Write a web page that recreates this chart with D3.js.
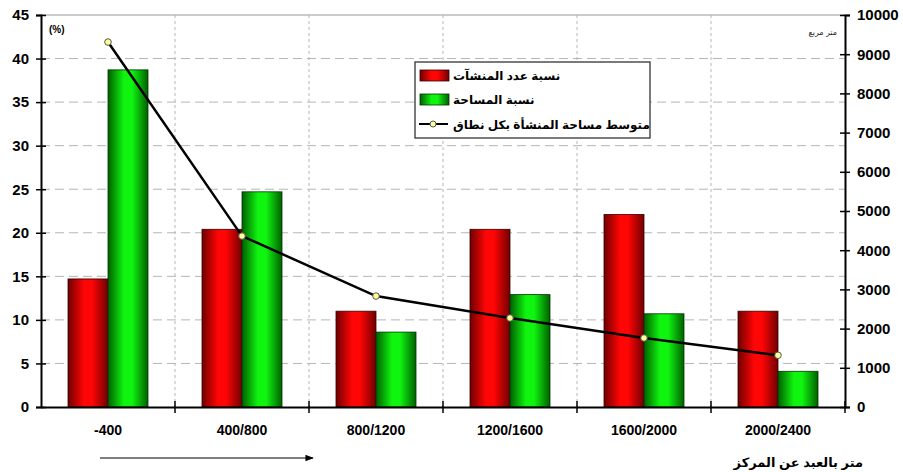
<!DOCTYPE html>
<html>
<head>
<meta charset="utf-8">
<script src="https://cdn.jsdelivr.net/npm/d3@7"></script>
<style>
  body { margin: 0; background: #fff; }
  text { font-family: Arial, "Liberation Sans", "DejaVu Sans", sans-serif; }
</style>
</head>
<body>
<div id="chart"></div>
<script>
// data
const categories = ["-400", "400/800", "800/1200", "1200/1600", "1600/2000", "2000/2400"];
const countShare = [14.7, 20.4, 11.0, 20.4, 22.1, 11.0];   // نسبة عدد المنشآت
const areaShare  = [38.7, 24.7, 8.6, 12.9, 10.7, 4.1];     // نسبة المساحة
const avgArea    = [9310, 4360, 2830, 2270, 1760, 1320];   // متوسط مساحة المنشأة
const leftTicks  = d3.range(0, 46, 5);
const rightTicks = d3.range(0, 10001, 1000);
const legendLabels = ["نسبة عدد المنشآت", "نسبة المساحة", "متوسط مساحة المنشأة بكل نطاق"];

const W = 903, H = 472;
const m = {left: 41, right: 58, top: 15, bottom: 65};

const svg = d3.select("#chart").append("svg")
  .attr("width", W).attr("height", H);

const defs = svg.append("defs");
const grad = function(id, dark, light) {
  const g = defs.append("linearGradient").attr("id", id)
    .attr("x1", "0%").attr("x2", "100%").attr("y1", "0%").attr("y2", "0%");
  g.append("stop").attr("offset", "0%").attr("stop-color", dark);
  g.append("stop").attr("offset", "40%").attr("stop-color", light);
  g.append("stop").attr("offset", "60%").attr("stop-color", light);
  g.append("stop").attr("offset", "100%").attr("stop-color", dark);
}
grad("gRed", "#700000", "#ff0505");
grad("gGreen", "#006000", "#10f510");

defs.append("marker").attr("id", "arrow")
  .attr("viewBox", "0 0 10 10").attr("refX", 9).attr("refY", 5)
  .attr("markerWidth", 7).attr("markerHeight", 7).attr("orient", "auto")
  .append("path").attr("d", "M0,1 L10,5 L0,9 Z").attr("fill", "#000");

const x0 = d3.scaleBand().domain(categories).range([m.left, W - m.right]);
const x1 = d3.scaleBand().domain(["count", "area"]).range([0, 80]);
const y = d3.scaleLinear().domain([0, 45]).range([H - m.bottom, m.top]);
const y2 = d3.scaleLinear().domain([0, 10000]).range([H - m.bottom, m.top]);

const plotL = m.left, plotR = W - m.right, plotB = H - m.bottom;

// gridlines
svg.append("g").selectAll("line").data(leftTicks.filter(d => d > 0 && d < 45))
  .join("line")
  .attr("x1", plotL).attr("x2", plotR)
  .attr("y1", d => y(d)).attr("y2", d => y(d))
  .attr("stroke", "#b5b5b5").attr("stroke-dasharray", "9,5");
svg.append("line").attr("x1", plotL).attr("x2", plotR)
  .attr("y1", y(45)).attr("y2", y(45)).attr("stroke", "#999");
svg.append("g").selectAll("line").data(categories.slice(1))
  .join("line")
  .attr("x1", d => x0(d)).attr("x2", d => x0(d))
  .attr("y1", m.top).attr("y2", plotB)
  .attr("stroke", "#b5b5b5").attr("stroke-dasharray", "3,3");

// bars
const offs = (x0.bandwidth() - 80) / 2;
const grp = svg.append("g").selectAll("g").data(categories).join("g")
  .attr("transform", d => `translate(${x0(d) + offs},0)`);
grp.append("rect")
  .attr("x", x1("count")).attr("width", x1.bandwidth())
  .attr("y", (d, i) => y(countShare[i])).attr("height", (d, i) => plotB - y(countShare[i]))
  .attr("fill", "url(#gRed)").attr("stroke", "#300").attr("stroke-width", 0.8);
grp.append("rect")
  .attr("x", x1("area")).attr("width", x1.bandwidth())
  .attr("y", (d, i) => y(areaShare[i])).attr("height", (d, i) => plotB - y(areaShare[i]))
  .attr("fill", "url(#gGreen)").attr("stroke", "#030").attr("stroke-width", 0.8);

// line
const line = d3.line()
  .x((d, i) => x0(categories[i]) + x0.bandwidth() / 2)
  .y(d => y2(d));
svg.append("path").datum(avgArea).attr("d", line)
  .attr("fill", "none").attr("stroke", "#000").attr("stroke-width", 2.5);
svg.append("g").selectAll("circle").data(avgArea).join("circle")
  .attr("cx", (d, i) => x0(categories[i]) + x0.bandwidth() / 2)
  .attr("cy", d => y2(d)).attr("r", 3.3)
  .attr("fill", "#ffff99").attr("stroke", "#555").attr("stroke-width", 1);

// axes
const yAxisL = svg.append("g").attr("transform", `translate(${plotL},0)`)
  .call(d3.axisLeft(y).tickValues(leftTicks).tickSize(5).tickPadding(7));
yAxisL.selectAll(".tick").append("line").attr("x2", 5);

const yAxisR = svg.append("g").attr("transform", `translate(${plotR},0)`)
  .call(d3.axisRight(y2).tickValues(rightTicks).tickFormat(d3.format("d")).tickSize(5).tickPadding(7));
yAxisR.selectAll(".tick").append("line").attr("x2", -5);

const xAxis = svg.append("g").attr("transform", `translate(0,${plotB})`)
  .call(d3.axisBottom(x0).tickSize(0).tickPadding(18));
// boundary ticks between categories
xAxis.selectAll(".bt").data(categories.slice(1).concat(["end"])).join("line")
  .attr("class", "bt")
  .attr("x1", d => d === "end" ? plotR : x0(d)).attr("x2", d => d === "end" ? plotR : x0(d))
  .attr("y1", -6).attr("y2", 6).attr("stroke", "#000").attr("stroke-width", 1.5);

[yAxisL, yAxisR, xAxis].forEach(a => {
  a.select(".domain").attr("stroke", "#000").attr("stroke-width", 2);
  a.selectAll(".tick line").attr("stroke", "#000").attr("stroke-width", 1.5);
  a.selectAll("text").attr("font-weight", "bold").attr("fill", "#000")
    .style("font-family", "Arial, 'Liberation Sans', sans-serif");
});
yAxisL.selectAll("text").attr("font-size", 15);
yAxisR.selectAll("text").attr("font-size", 15);
xAxis.selectAll("text").attr("font-size", 14);

// unit labels
svg.append("text").attr("x", 49).attr("y", 33).text("(%)")
  .attr("font-size", 10).attr("font-weight", "bold");
svg.append("text").attr("x", 837).attr("y", 35).attr("text-anchor", "start")
  .attr("direction", "rtl").text("متر مربع").attr("font-size", 8).attr("fill", "#222");
svg.append("text").attr("x", 863).attr("y", 467).attr("text-anchor", "start")
  .attr("direction", "rtl").text("متر بالعبد عن المركز")
  .attr("font-size", 13).attr("font-weight", "bold");

// arrow
svg.append("line").attr("x1", 100).attr("x2", 313).attr("y1", 458).attr("y2", 458)
  .attr("stroke", "#000").attr("stroke-width", 1.2).attr("marker-end", "url(#arrow)");

// legend
const lg = svg.append("g");
lg.append("rect").attr("x", 415).attr("y", 62).attr("width", 235).attr("height", 76)
  .attr("fill", "#fff").attr("stroke", "#333").attr("stroke-width", 1.3);
const rowsY = [75, 99, 124];
lg.append("rect").attr("x", 420).attr("y", rowsY[0] - 5).attr("width", 29).attr("height", 11)
  .attr("fill", "url(#gRed)").attr("stroke", "#300").attr("stroke-width", 0.8);
lg.append("rect").attr("x", 420).attr("y", rowsY[1] - 5).attr("width", 29).attr("height", 11)
  .attr("fill", "url(#gGreen)").attr("stroke", "#030").attr("stroke-width", 0.8);
lg.append("line").attr("x1", 419).attr("x2", 448).attr("y1", rowsY[2]).attr("y2", rowsY[2])
  .attr("stroke", "#000").attr("stroke-width", 2);
lg.append("circle").attr("cx", 433).attr("cy", rowsY[2]).attr("r", 3)
  .attr("fill", "#ffff99").attr("stroke", "#555");
lg.selectAll("text.lt").data(legendLabels).join("text").attr("class", "lt")
  .attr("x", 453).attr("y", (d, i) => rowsY[i] + 5)
  .attr("direction", "rtl").attr("text-anchor", "end")
  .attr("font-size", 12).attr("font-weight", "bold").text(d => d);
</script>
</body>
</html>
